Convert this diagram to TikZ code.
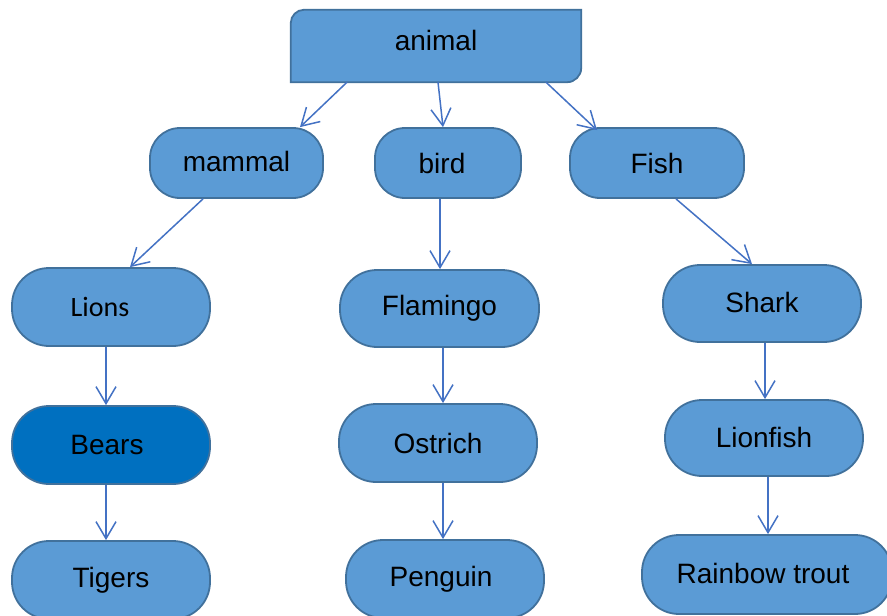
\documentclass[tikz,border=0pt]{standalone}
\usepackage{fontspec}
\setmainfont{Liberation Sans}
\newfontfamily\carlito{Carlito}
\usepackage{tikz}
\usetikzlibrary{arrows.meta,backgrounds}
\definecolor{boxfill}{HTML}{5B9BD5}
\definecolor{boxline}{HTML}{41719C}
\definecolor{arrline}{HTML}{4472C4}
\definecolor{darkfill}{HTML}{0070C0}
\tikzset{
  pill/.style={draw=boxline,fill=boxfill,line width=1.8pt,inner sep=0pt,
    rounded corners=#1,font=\fontsize{28}{32}\selectfont},
  pill/.default=30pt,
  arr/.style={draw=arrline,line width=1.5pt,-{Straight Barb[length=17pt,width=20pt,line width=1.5pt]}}
}
\begin{document}
\begin{tikzpicture}[x=1pt,y=-1pt]
\useasboundingbox (0,0) rectangle (887,616);
\node[inner sep=0pt,minimum width=290pt,minimum height=72pt,font=\fontsize{28}{32}\selectfont] (animal) at (436,46) {\raisebox{11pt}{animal}};
\begin{scope}[on background layer]
\fill[white] (0,0) rectangle (887,616);
\draw[draw=boxline,fill=boxfill,line width=1.8pt]
  ([yshift=-13pt]animal.north west) .. controls ([yshift=-6pt]animal.north west) and ([xshift=6pt]animal.north west) .. ([xshift=13pt]animal.north west)
  -- (animal.north east)
  -- ([yshift=14pt]animal.south east) .. controls ([yshift=6.5pt]animal.south east) and ([xshift=-6.5pt]animal.south east) .. ([xshift=-14pt]animal.south east)
  -- (animal.south west) -- cycle;
\end{scope}
% second row
\node[pill,minimum width=173pt,minimum height=70pt] (mammal) at (236.5,163) {\raisebox{4pt}{mammal}};
\node[pill,minimum width=146pt,minimum height=70pt] (bird) at (448,163) {\hspace*{-12pt}bird};
\node[pill,minimum width=174pt,minimum height=70pt] (fish) at (657,163) {Fish};
% third row
\node[pill=37pt,minimum width=198pt,minimum height=78pt,font=\carlito\fontsize{28}{32}\selectfont] (lions) at (111,307) {\hspace*{-22pt}Lions};
\node[pill=37pt,minimum width=199pt,minimum height=77pt] (flamingo) at (439.5,308.5) {Flamingo};
\node[pill=37pt,minimum width=198pt,minimum height=77pt] (shark) at (762,303.5) {\raisebox{2pt}{Shark}};
% fourth row
\node[pill=37pt,fill=darkfill,minimum width=198pt,minimum height=78pt] (bears) at (111,445) {\hspace*{-8pt}Bears};
\node[pill=37pt,minimum width=198pt,minimum height=78pt] (ostrich) at (438,443) {Ostrich};
\node[pill=37pt,minimum width=198pt,minimum height=76pt] (lionfish) at (764,438) {\raisebox{2pt}{Lionfish}};
% fifth row
\node[pill=37pt,minimum width=198pt,minimum height=78pt] (tigers) at (111,580) {Tigers};
\node[pill=37pt,minimum width=198pt,minimum height=78pt] (penguin) at (445,579) {\hspace*{-8pt}Penguin};
\node[pill=37pt,minimum width=250pt,minimum height=79pt] (trout) at (767,574.5) {\hspace*{-8pt}\raisebox{3pt}{Rainbow trout}};
% arrows
\draw[arr] ([xshift=-89pt]animal.south) -- ([xshift=63.5pt]mammal.north);
\draw[arr] ([xshift=2pt]animal.south) -- ([xshift=-5pt]bird.north);
\draw[arr] ([xshift=110pt]animal.south) -- ([xshift=-60pt,yshift=-3pt]fish.north);
\draw[arr] ([xshift=-33.5pt]mammal.south) -- ([xshift=19pt]lions.north);
\draw[arr] ([xshift=-8pt]bird.south) -- ([xshift=0.5pt]flamingo.north);
\draw[arr] ([xshift=19pt]fish.south) -- ([xshift=-10pt]shark.north);
\draw[arr] ([xshift=-5pt]lions.south) -- ([xshift=-5pt]bears.north);
\draw[arr] ([xshift=-5pt]bears.south) -- ([xshift=-5pt]tigers.north);
\draw[arr] ([xshift=3.5pt]flamingo.south) -- ([xshift=5pt]ostrich.north);
\draw[arr] ([xshift=5pt]ostrich.south) -- ([xshift=-2pt]penguin.north);
\draw[arr] ([xshift=3pt]shark.south) -- ([xshift=1pt]lionfish.north);
\draw[arr] ([xshift=4pt]lionfish.south) -- ([xshift=1pt]trout.north);
\end{tikzpicture}
\end{document}
